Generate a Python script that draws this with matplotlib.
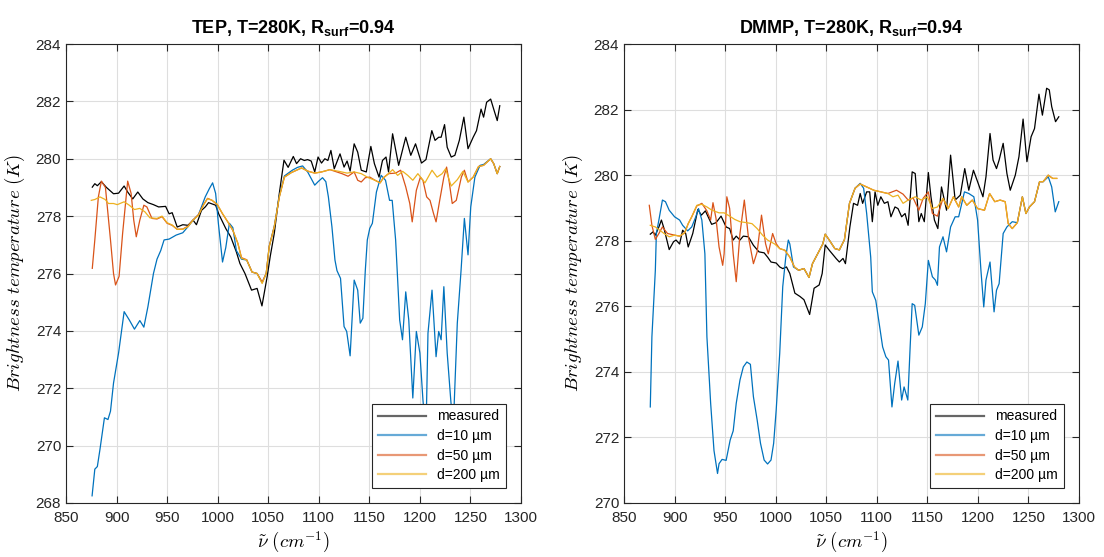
import matplotlib
matplotlib.use('Agg')
import matplotlib.pyplot as plt
import numpy as np

# --- TEP panel (wavenumber, brightness temperature) ---
tep_measured = [
    (876, 279.01), (878.5, 279.13), (881, 279.06), (885, 279.2), (890, 279.0), (897, 278.78),
    (902, 278.8), (907.5, 279.05), (911, 278.84), (916, 278.6), (921, 278.84), (926, 278.6),
    (931, 278.47), (936.5, 278.4), (941.6, 278.32), (948.5, 278.34), (952, 278.08), (955, 278.12),
    (960, 277.62), (965.5, 277.7), (970.6, 277.68), (975.7, 277.86), (979, 277.7), (984, 278.2),
    (987.7, 278.32), (991, 278.47), (998, 278.38), (1001, 278.08), (1008, 277.57), (1013, 277.27),
    (1018.5, 276.75), (1022, 276.35), (1027, 276.0), (1033.5, 275.42), (1039, 275.48), (1043.8, 274.87),
    (1049, 275.9), (1052, 276.6), (1056, 277.4), (1061, 278.8), (1065.6, 279.95), (1069.7, 279.7),
    (1074.8, 280.08), (1078, 279.83), (1082, 280.0), (1085.7, 279.94), (1089, 279.97), (1092.5, 279.92),
    (1096, 279.54), (1099.3, 280.06), (1102.7, 279.85), (1106, 280.0), (1109, 279.94), (1112, 280.29),
    (1115.3, 279.65), (1121, 280.17), (1125, 279.71), (1128, 279.92), (1131, 279.57), (1135, 280.52),
    (1138.5, 280.23), (1142, 279.6), (1147, 279.54), (1151.5, 280.43), (1155, 279.83), (1159.6, 279.36),
    (1163, 279.94), (1166.5, 280.06), (1169, 279.54), (1173, 280.87), (1179, 279.77), (1186, 280.75),
    (1191, 280.12), (1195.7, 280.52), (1201.6, 279.85), (1206, 279.97), (1211.8, 280.98), (1215, 280.64),
    (1218.6, 280.75), (1221, 280.75), (1224.4, 281.19), (1227, 280.4), (1231, 280.06), (1234.6, 280.12),
    (1239, 280.64), (1243.5, 281.45), (1247.6, 280.35), (1252.7, 280.75), (1256, 280.98), (1260.5, 281.73),
    (1263, 281.45), (1266, 281.97), (1270, 282.08), (1273, 281.73), (1276.5, 281.33), (1279, 281.85),
]
tep_d10 = [
    (875.8, 268.25), (878.5, 269.18), (881, 269.27), (883.6, 269.87), (888, 270.97), (891.5, 270.91),
    (894, 271.2), (897, 272.18), (902, 273.23), (907.5, 274.67), (912.6, 274.38), (917.7, 274.06),
    (923, 274.36), (927, 274.13), (931, 274.84), (936.5, 276.0), (940, 276.5), (943.7, 276.8),
    (947, 277.17), (952, 277.2), (959, 277.34), (965.5, 277.42), (970.6, 277.63), (975.7, 277.86),
    (981, 278.05), (987.7, 278.67), (991.8, 278.96), (995, 279.16), (998, 278.79), (1000.7, 277.75),
    (1004.8, 276.4), (1008, 276.9), (1011.6, 277.75), (1015, 277.6), (1018.5, 276.8), (1023.6, 276.5),
    (1028.7, 276.47), (1034, 276.05), (1039, 276.0), (1044, 275.68), (1048, 276.0), (1051, 276.95),
    (1056, 277.65), (1061, 278.7), (1066, 279.4), (1073.8, 279.6), (1079, 279.7), (1084, 279.75),
    (1089, 279.54), (1096, 279.08), (1099.3, 279.2), (1103.7, 279.34), (1107, 279.2), (1109.5, 278.67),
    (1113, 277.63), (1116, 276.47), (1118, 276.1), (1121.5, 275.83), (1125, 274.15), (1127.6, 273.98),
    (1131, 273.13), (1135, 275.77), (1138.5, 275.42), (1141, 274.27), (1143.6, 274.44), (1146, 276.1),
    (1148, 277.17), (1150.4, 277.57), (1153, 277.75), (1157, 278.84), (1161.7, 279.42), (1166, 279.25),
    (1170, 278.55), (1172.6, 278.55), (1176, 277.17), (1177.7, 276.0), (1180, 274.38), (1182.8, 273.69),
    (1186, 275.36), (1189, 274.38), (1193, 271.66), (1196.5, 273.98), (1200, 273.23), (1203, 271.6),
    (1206, 270.4), (1208, 273.92), (1212, 275.42), (1214, 274.27), (1216, 273.1), (1218.6, 273.98),
    (1221, 273.69), (1223.7, 275.54), (1227, 273.23), (1230.5, 271.6), (1233, 270.6), (1237, 274.27),
    (1240.7, 276.1), (1244, 277.92), (1247.6, 276.65), (1250.3, 278.32), (1254.4, 279.36), (1259.5, 279.77),
    (1263, 279.8), (1270, 280.0), (1273, 279.83), (1276.5, 279.48), (1279, 279.73),
]
tep_d50 = [
    (876, 276.18), (878.5, 277.17), (882, 278.67), (885, 279.22), (889, 279.0), (894, 277.17),
    (897, 276.0), (899, 275.6), (902.5, 275.9), (906, 277.4), (911, 279.22), (914.4, 278.79),
    (917, 277.86), (919.5, 277.28), (923, 277.86), (927, 278.38), (930, 278.32), (935, 277.92),
    (940, 277.9), (945, 277.98), (950, 277.75), (955, 277.68), (960, 277.54), (965.5, 277.55),
    (970.6, 277.65), (975.7, 277.87), (981, 278.05), (986, 278.4), (990, 278.62), (994.5, 278.55),
    (999.6, 278.4), (1004.8, 278.08), (1010, 277.8), (1015, 277.5), (1020, 277.05), (1023.6, 276.55),
    (1028.7, 276.48), (1034, 276.05), (1039, 276.0), (1044, 275.7), (1048, 276.0), (1051, 276.95),
    (1056, 277.63), (1061, 278.67), (1066, 279.36), (1073, 279.52), (1078, 279.6), (1083, 279.68),
    (1089, 279.57), (1096, 279.5), (1102.7, 279.54), (1111, 279.62), (1123, 279.48), (1129, 279.39),
    (1135, 279.54), (1138.5, 279.25), (1142, 279.19), (1146, 279.34), (1150.5, 279.36), (1155.6, 279.25),
    (1160.7, 279.16), (1164, 279.34), (1169, 279.48), (1176, 279.5), (1181, 279.6), (1186, 279.02),
    (1190, 278.44), (1192.4, 277.8), (1196.5, 278.9), (1200.5, 279.36), (1203, 279.25), (1206.7, 278.67),
    (1210, 278.55), (1213.5, 278.09), (1216, 277.8), (1219.6, 278.55), (1223.7, 279.36), (1226.4, 279.71),
    (1229, 279.19), (1232, 278.44), (1236, 278.55), (1241, 279.36), (1244, 279.6), (1247.6, 279.19),
    (1252.7, 279.36), (1258, 279.73), (1263, 279.77), (1270, 280.0), (1273, 279.83), (1276.5, 279.48),
    (1279, 279.73),
]
tep_d200 = [
    (875, 278.55), (878.5, 278.58), (883.6, 278.67), (888.7, 278.58), (892, 278.44), (897, 278.44),
    (900.7, 278.4), (907.5, 278.5), (912.6, 278.38), (917.7, 278.23), (923, 278.27), (928, 278.15),
    (933, 277.94), (940, 277.92), (945, 278.0), (950, 277.77), (955, 277.69), (960, 277.54),
    (965.5, 277.54), (970.6, 277.63), (975.7, 277.86), (981, 278.03), (986, 278.38), (990, 278.61),
    (994.5, 278.55), (999.6, 278.41), (1004.8, 278.09), (1010, 277.8), (1015, 277.51), (1020, 277.05),
    (1023.6, 276.53), (1028.7, 276.47), (1034, 276.05), (1039, 276.0), (1044, 275.65), (1048, 276.0),
    (1051, 276.93), (1056, 277.63), (1061, 278.67), (1066, 279.36), (1073, 279.52), (1078, 279.6),
    (1083, 279.68), (1089, 279.57), (1096, 279.5), (1102.7, 279.54), (1111, 279.62), (1120, 279.56),
    (1128, 279.5), (1135, 279.54), (1142, 279.48), (1149, 279.34), (1155.6, 279.25), (1160.7, 279.16),
    (1164, 279.34), (1169, 279.48), (1173, 279.62), (1178, 279.42), (1183, 279.56), (1188, 279.42),
    (1193, 279.25), (1198, 279.48), (1205, 279.16), (1212, 279.6), (1217, 279.36), (1222, 279.48),
    (1225.4, 279.65), (1231, 279.05), (1237, 279.27), (1242.5, 279.56), (1247.6, 279.19), (1252.7, 279.36),
    (1258, 279.73), (1263, 279.77), (1270, 280.0), (1273, 279.83), (1276.5, 279.48), (1279, 279.73),
]

# --- DMMP panel ---
dmmp_measured = [
    (876, 278.2), (878.7, 278.27), (881, 278.17), (884.5, 278.42), (887, 278.63), (889.6, 278.37),
    (894.7, 277.73), (899, 277.97), (901.5, 278.02), (905, 277.9), (908, 278.32), (911, 278.22),
    (913.5, 277.81), (918, 278.22), (923, 278.95), (926.5, 278.78), (930.5, 278.91), (936.7, 278.5),
    (941, 278.55), (946, 278.75), (951, 278.42), (954.5, 278.37), (958, 278.02), (961, 278.14),
    (964.7, 278.02), (968, 278.14), (973, 278.12), (978, 277.86), (983.5, 277.66), (988.6, 277.63),
    (992, 277.5), (995.4, 277.35), (1000.5, 277.32), (1004, 277.2), (1007, 277.15), (1010.7, 277.2),
    (1014, 277.0), (1019, 276.4), (1024, 276.3), (1028, 276.2), (1033.6, 275.75), (1038, 276.55),
    (1043, 276.65), (1046, 277.0), (1049, 277.87), (1053, 277.71), (1060, 277.45), (1063, 277.35),
    (1066.6, 277.46), (1069, 277.3), (1073.4, 278.42), (1077, 279.14), (1081, 279.08), (1083.6, 279.44),
    (1086, 279.14), (1090, 279.49), (1093, 279.49), (1095.6, 278.58), (1098.3, 279.49), (1101, 279.08),
    (1104, 279.34), (1107.5, 279.14), (1111, 279.19), (1114, 278.73), (1118, 279.03), (1121, 278.98),
    (1124.6, 278.73), (1128, 278.83), (1131, 278.47), (1135, 280.1), (1138, 280.05), (1141.6, 278.58),
    (1144, 278.83), (1147, 278.58), (1151, 280.08), (1153.6, 279.34), (1157, 278.63), (1160.4, 278.37),
    (1164, 279.64), (1169, 278.93), (1173, 280.61), (1177.5, 279.24), (1182.6, 279.39), (1187, 280.2),
    (1191, 279.54), (1195.6, 280.15), (1199.7, 279.8), (1205, 279.34), (1208, 279.95), (1212, 281.27),
    (1215, 280.46), (1218.4, 280.2), (1221, 280.46), (1225, 280.97), (1228.7, 280.05), (1232, 279.54),
    (1237, 280.0), (1240.6, 280.56), (1244.7, 281.71), (1248.5, 280.41), (1252.6, 281.17), (1256, 281.42),
    (1260.4, 282.47), (1263.8, 281.83), (1268, 282.65), (1270.6, 282.6), (1273, 282.09), (1276.8, 281.63),
    (1280, 281.78),
]
dmmp_d10 = [
    (876, 272.93), (877.6, 275.07), (881, 277.1), (882, 278.22), (884.5, 278.63), (888, 279.24),
    (891, 279.19), (894.7, 278.93), (900, 278.73), (905, 278.63), (908, 278.47), (913, 278.3),
    (917, 278.42), (921, 278.73), (923.7, 278.98), (927, 278.63), (930, 277.6), (932, 275.07),
    (935.7, 273.04), (939, 271.6), (942.5, 270.9), (944, 271.2), (947, 271.33), (951, 271.3),
    (955, 271.92), (958, 272.2), (961, 273.04), (964.7, 273.75), (968, 274.15), (971.5, 274.3),
    (975, 274.23), (978, 273.24), (981.7, 272.53), (985, 271.82), (988.6, 271.31), (992, 271.19),
    (995.4, 271.31), (998, 271.82), (1000.5, 272.83), (1004, 274.56), (1007, 276.6), (1010, 277.5),
    (1012.5, 278.02), (1014, 277.9), (1017.6, 277.2), (1022.7, 277.1), (1028, 277.15), (1033, 276.88),
    (1036.4, 277.3), (1041.5, 277.6), (1046.6, 277.9), (1049, 278.2), (1053, 278.02), (1058.5, 277.76),
    (1063, 277.72), (1068, 278.03), (1073, 279.14), (1078.5, 279.6), (1083.6, 279.75), (1087, 279.6),
    (1090, 278.83), (1094, 277.5), (1095.6, 276.44), (1099, 276.18), (1102.4, 275.47), (1105.8, 274.76),
    (1109, 274.46), (1111.6, 274.36), (1115, 272.93), (1117.7, 273.64), (1121, 274.33), (1124.6, 273.14),
    (1127, 273.54), (1130.7, 273.14), (1133, 274.76), (1135, 276.08), (1137.5, 276.03), (1141.6, 275.12),
    (1145, 275.37), (1148, 276.08), (1151, 277.4), (1155, 276.9), (1158, 276.8), (1160, 276.64),
    (1162, 277.81), (1165.5, 278.12), (1169, 277.66), (1173, 278.42), (1177.5, 278.73), (1181, 278.73),
    (1186.7, 279.49), (1191, 279.44), (1196, 279.34), (1199.7, 278.63), (1203, 277.1), (1205.8, 275.98),
    (1208, 276.8), (1212, 277.35), (1216, 275.83), (1218.4, 276.49), (1221, 276.69), (1225, 278.22),
    (1228.7, 278.42), (1234, 278.58), (1239, 278.55), (1244, 279.34), (1247.5, 278.83), (1251, 279.03),
    (1256, 279.19), (1261, 279.8), (1264.5, 279.8), (1269.6, 279.95), (1273, 279.64), (1276.5, 278.88),
    (1280, 279.19),
]
dmmp_d50 = [
    (875, 279.08), (877.6, 278.47), (881, 278.04), (884.5, 278.22), (888, 278.42), (893, 278.22),
    (900, 278.17), (905, 278.14), (910, 278.24), (913.5, 278.52), (917, 278.73), (922, 279.06),
    (927, 279.14), (932, 278.91), (935.7, 278.63), (938, 279.16), (941, 278.68), (944, 277.81),
    (947.6, 277.25), (949, 277.6), (951.7, 279.34), (954.5, 278.98), (958, 277.6), (961, 276.75),
    (964.7, 278.22), (969, 279.24), (973, 278.12), (978, 277.3), (981.7, 277.66), (986, 278.78),
    (990, 277.91), (992.7, 277.6), (997, 278.22), (1000.5, 277.91), (1004, 277.76), (1009, 277.71),
    (1014, 277.5), (1018.6, 277.2), (1022.7, 277.1), (1028, 277.15), (1033, 276.88), (1036.4, 277.3),
    (1041.5, 277.6), (1046.6, 277.9), (1049, 278.2), (1053, 278.02), (1058.5, 277.76), (1063, 277.72),
    (1068, 278.03), (1073, 279.14), (1078.5, 279.6), (1083.6, 279.73), (1090, 279.64), (1097, 279.54),
    (1104, 279.49), (1111, 279.44), (1119.5, 279.54), (1126, 279.42), (1131, 279.24), (1136, 279.3),
    (1141.6, 278.93), (1146, 279.3), (1151, 279.49), (1155, 278.83), (1160, 278.75), (1165.5, 279.29),
    (1170.6, 278.98), (1175.8, 279.34), (1181, 279.03), (1184, 279.34), (1189, 279.08), (1194.5, 279.24),
    (1199.7, 278.98), (1206.5, 278.93), (1211.6, 279.44), (1216.7, 279.19), (1222, 279.24), (1227, 279.19),
    (1230, 278.52), (1234, 278.37), (1239, 278.55), (1244, 279.34), (1247.5, 278.83), (1251, 279.03),
    (1256, 279.19), (1261, 279.8), (1264.5, 279.8), (1269.6, 280.0), (1274, 279.9), (1278, 279.9),
]
dmmp_d200 = [
    (876, 278.47), (881, 278.42), (884.5, 278.34), (889.6, 278.22), (894.7, 278.12), (900, 278.17),
    (905, 278.14), (910, 278.24), (913.5, 278.52), (917, 278.73), (922, 279.08), (927, 279.11),
    (932, 279.03), (937, 278.93), (944, 278.85), (949, 278.85), (954.5, 278.75), (959.5, 278.65),
    (964.7, 278.58), (971.5, 278.55), (976.6, 278.52), (981.7, 278.37), (987, 278.17), (992, 278.02),
    (999, 277.9), (1004, 277.76), (1009, 277.71), (1014, 277.5), (1018.6, 277.2), (1022.7, 277.1),
    (1028, 277.15), (1033, 276.88), (1036.4, 277.3), (1041.5, 277.6), (1046.6, 277.9), (1049, 278.2),
    (1053, 278.02), (1058.5, 277.76), (1063, 277.72), (1068, 278.03), (1073, 279.14), (1078.5, 279.6),
    (1083.6, 279.73), (1090, 279.64), (1097, 279.54), (1104, 279.49), (1111, 279.44), (1116, 279.34),
    (1121, 279.39), (1126, 279.14), (1131, 279.24), (1138, 279.34), (1144, 279.24), (1150, 279.34),
    (1155, 278.98), (1160, 279.03), (1165.5, 279.29), (1170.6, 278.98), (1175.8, 279.34), (1181, 279.03),
    (1184, 279.34), (1189, 279.08), (1194.5, 279.24), (1199.7, 278.98), (1206.5, 278.93), (1211.6, 279.44),
    (1216.7, 279.19), (1222, 279.24), (1227, 279.19), (1230, 278.52), (1234, 278.37), (1239, 278.55),
    (1244, 279.34), (1247.5, 278.83), (1251, 279.03), (1256, 279.19), (1261, 279.8), (1264.5, 279.8),
    (1269.6, 280.0), (1274, 279.9), (1278, 279.9),
]

labels = ['measured', 'd=10 µm', 'd=50 µm', 'd=200 µm']
colors = ['black', '#0072BD', '#D95319', '#EDB120']

plt.rcParams['font.family'] = ['Liberation Sans', 'DejaVu Sans']
plt.rcParams['mathtext.fontset'] = 'custom'
plt.rcParams['mathtext.rm'] = 'Liberation Sans'
plt.rcParams['mathtext.bf'] = 'Liberation Sans:bold'
plt.rcParams['mathtext.it'] = 'Liberation Sans:italic'

fig = plt.figure(figsize=(11.04, 5.57), dpi=100)
ax1 = fig.add_axes([66/1104, 54/557, 455/1104, 459/557])
ax2 = fig.add_axes([624/1104, 54/557, 455/1104, 459/557])

panels = [
    (ax1, 'TEP', [tep_measured, tep_d10, tep_d50, tep_d200], (268, 284)),
    (ax2, 'DMMP', [dmmp_measured, dmmp_d10, dmmp_d50, dmmp_d200], (270, 284)),
]

for ax, name, series, ylim in panels:
    for data, lab, col in zip(series, labels, colors):
        arr = np.array(data).T
        ax.plot(arr[0], arr[1], color=col, lw=0.9, label=lab)
    ax.set_xlim(850, 1300)
    ax.set_ylim(*ylim)
    ax.set_xticks(np.arange(850, 1301, 50))
    ax.set_yticks(np.arange(ylim[0], ylim[1] + 1, 2))
    ax.grid(True, color='#dedede', lw=0.8)
    ax.set_axisbelow(True)
    ax.tick_params(direction='in', top=True, right=True, length=5, width=0.8,
                   labelsize=11, colors='#262626')
    ax.tick_params(axis='x', pad=6)
    for sp in ax.spines.values():
        sp.set_color('#262626')
        sp.set_linewidth(0.8)
    ax.set_title(name + r', T=280K, R$_\mathbf{surf}$=0.94', fontweight='bold',
                 fontsize=13, pad=8)
    ax.set_xlabel(r'$\tilde{\nu}\ (cm^{-1})$', math_fontfamily='cm', fontsize=13.5, labelpad=3)
    ax.set_ylabel(r'$Brightness\ temperature\ (K)$', math_fontfamily='cm', fontsize=13.5, labelpad=6)
    leg = ax.legend(loc='lower right', fontsize=10, fancybox=False, framealpha=1,
                    edgecolor='#262626', handlelength=3.5, borderaxespad=1.1,
                    labelspacing=0.4, borderpad=0.4)
    leg.get_frame().set_linewidth(0.8)
    for h in leg.get_lines():
        h.set_linewidth(1.6)
        h.set_alpha(0.6)

fig.savefig('out.png', dpi=100)
